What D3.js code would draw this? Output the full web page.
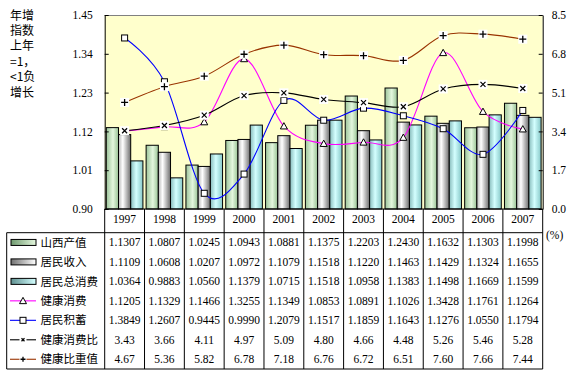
<!DOCTYPE html>
<html><head><meta charset="utf-8">
<script src="https://cdn.jsdelivr.net/npm/d3@7"></script>
<style>body{margin:0;background:#fff}svg{display:block}</style>
</head><body>
<svg id="c" width="577" height="375"></svg>
<script>
const years = ['1997','1998','1999','2000','2001','2002','2003','2004','2005','2006','2007'];
const gdp      = [1.1307,1.0807,1.0245,1.0943,1.0881,1.1375,1.2203,1.2430,1.1632,1.1303,1.1998];
const income   = [1.1109,1.0608,1.0207,1.0972,1.1079,1.1518,1.1220,1.1463,1.1429,1.1324,1.1655];
const consume  = [1.0364,0.9883,1.0560,1.1379,1.0715,1.1518,1.0958,1.1383,1.1498,1.1669,1.1599];
const health   = [1.1205,1.1329,1.1466,1.3255,1.1349,1.0853,1.0891,1.1026,1.3428,1.1761,1.1264];
const savings  = [1.3849,1.2607,0.9445,0.9990,1.2079,1.1517,1.1859,1.1643,1.1276,1.0550,1.1794];
const ratio    = [3.43,3.66,4.11,4.97,5.09,4.80,4.66,4.48,5.26,5.46,5.28];
const share    = [4.67,5.36,5.82,6.78,7.18,6.76,6.72,6.51,7.60,7.66,7.44];
const leftTicks = [0.90,1.01,1.12,1.23,1.34,1.45];
const rightTicks = [0,1.7,3.4,5.1,6.8,8.5];
const yTitle = ['年增','指数','上年','=1，','<1负','增长'];

const svg = d3.select('#c');
const L=104.7, R=542.7, T=15, B=209, tTop=232.7, tBot=369, tLeft=6.7;
const serif = 'Liberation Serif, Times New Roman, serif';
const cjk = 'Noto Sans CJK SC, sans-serif';

const x = d3.scaleBand().domain(years).range([L,R]).padding(0);
const yL = d3.scaleLinear().domain([0.90,1.45]).range([B,T]);
const yR = d3.scaleLinear().domain([0,8.5]).range([B,T]);
const barKeys = ['g','s','c'];
const gap = x.bandwidth()*0.08;
const xi = d3.scaleBand().domain(barKeys).range([gap/2, x.bandwidth()-gap/2]).padding(0);

const defs = svg.append('defs');
function grad(id, stops){
  const g = defs.append('linearGradient').attr('id',id).attr('x1',0).attr('x2',1).attr('y1',0).attr('y2',0);
  stops.forEach(s=>g.append('stop').attr('offset',s[0]).attr('stop-color',s[1]));
}
grad('gG',[[0,'#9cc49a'],[0.55,'#e4f7de'],[1,'#98c294']]);
grad('gS',[[0,'#b8b8b8'],[0.35,'#ffffff'],[1,'#6e6e6e']]);
grad('gC',[[0,'#88bcbc'],[0.45,'#d4ffff'],[1,'#86c8c8']]);
grad('lG',[[0,'#6f9a6f'],[1,'#e4f7de']]);
grad('lS',[[0,'#707070'],[1,'#ffffff']]);
grad('lC',[[0,'#5f9090'],[1,'#d4ffff']]);

// plot background
svg.append('rect').attr('x',L).attr('y',T).attr('width',R-L).attr('height',B-T).attr('fill','#FFFFCC');
svg.append('line').attr('x1',L).attr('x2',R).attr('y1',T+0.5).attr('y2',T+0.5).attr('stroke','#808080');

// bars
const barSeries = [{k:'g',v:gdp,f:'url(#gG)'},{k:'s',v:income,f:'url(#gS)'},{k:'c',v:consume,f:'url(#gC)'}];
barSeries.forEach(s=>{
  svg.append('g').selectAll('rect').data(years).join('rect')
    .attr('x',(d)=>x(d)+xi(s.k)).attr('width',xi.bandwidth())
    .attr('y',(d,i)=>yL(s.v[i])).attr('height',(d,i)=>B-yL(s.v[i]))
    .attr('fill',s.f).attr('stroke','#000').attr('stroke-width',1);
});

// axes
const axL = svg.append('g').attr('transform',`translate(${L},0)`)
  .call(d3.axisLeft(yL).tickValues(leftTicks).tickFormat(d3.format('.2f')).tickSizeInner(-4).tickSizeOuter(0).tickPadding(12));
const axR = svg.append('g').attr('transform',`translate(${R},0)`)
  .call(d3.axisRight(yR).tickValues(rightTicks).tickFormat(d3.format('.1f')).tickSizeInner(-4).tickSizeOuter(0).tickPadding(9));
[axL,axR].forEach(a=>{
  a.selectAll('text').attr('font-family',serif).attr('font-size','11.5px').attr('fill','#000');
  a.selectAll('line,path').attr('stroke','#000');
});

// lines
const cx = d=>x(d)+x.bandwidth()/2;
const curve = d3.curveCatmullRom.alpha(0);
const lineSeries = [
  {v:health, y:yL, c:'#FF00FF', m:'tri'},
  {v:savings, y:yL, c:'#0000FF', m:'sq'},
  {v:ratio, y:yR, c:'#000000', m:'x'},
  {v:share, y:yR, c:'#993300', m:'plus'}
];
lineSeries.forEach(s=>{
  const ln = d3.line().x((d,i)=>cx(years[i])).y(d=>s.y(d)).curve(curve);
  svg.append('path').attr('d',ln(s.v)).attr('fill','none').attr('stroke',s.c).attr('stroke-width',1.1);
});
function marker(g, type, px, py, sz){
  const h=sz/2;
  if(type==='tri'){
    g.append('path').attr('d',`M${px},${py-h}L${px+h},${py+h*0.8}L${px-h},${py+h*0.8}Z`).attr('fill','#fff').attr('stroke','#000').attr('stroke-width',1);
  } else if(type==='sq'){
    g.append('rect').attr('x',px-h).attr('y',py-h).attr('width',sz).attr('height',sz).attr('fill','#fff').attr('stroke','#000').attr('stroke-width',1);
  } else if(type==='x'){
    g.append('rect').attr('x',px-h-1).attr('y',py-h-1).attr('width',sz+2).attr('height',sz+2).attr('fill','#fff');
    g.append('path').attr('d',`M${px-h+1},${py-h+1}L${px+h-1},${py+h-1}M${px+h-1},${py-h+1}L${px-h+1},${py+h-1}`).attr('stroke','#000').attr('stroke-width',1.2);
  } else {
    g.append('rect').attr('x',px-h-1).attr('y',py-h-1).attr('width',sz+2).attr('height',sz+2).attr('fill','#fff');
    g.append('path').attr('d',`M${px-h},${py}L${px+h},${py}M${px},${py-h}L${px},${py+h}`).attr('stroke','#000').attr('stroke-width',1.3);
  }
}
lineSeries.forEach(s=>{
  const g = svg.append('g');
  s.v.forEach((d,i)=>marker(g, s.m, cx(years[i]), s.y(d), s.m==='sq'?6:7));
});

// x axis line and table grid
const grid = svg.append('g').attr('stroke','#000').attr('stroke-width',1);
grid.append('line').attr('x1',L).attr('x2',R).attr('y1',B).attr('y2',B);
grid.append('line').attr('x1',tLeft).attr('x2',R).attr('y1',tTop).attr('y2',tTop);
grid.append('line').attr('x1',tLeft).attr('x2',R).attr('y1',tBot).attr('y2',tBot);
grid.append('line').attr('x1',tLeft).attr('x2',tLeft).attr('y1',tTop).attr('y2',tBot);
years.forEach(yv=>{
  grid.append('line').attr('x1',x(yv)).attr('x2',x(yv)).attr('y1',B).attr('y2',tBot);
});
grid.append('line').attr('x1',R).attr('x2',R).attr('y1',B).attr('y2',tBot);

// year labels
svg.append('g').selectAll('text').data(years).join('text')
  .attr('x',d=>cx(d)).attr('y',219).attr('dy','0.35em').attr('text-anchor','middle')
  .attr('font-family',serif).attr('font-size','11.5px').text(d=>d);

// table rows
const rows = [
  {name:'山西产值', v:gdp, fmt:'.4f', sym:'bar', f:'url(#lG)'},
  {name:'居民收入', v:income, fmt:'.4f', sym:'bar', f:'url(#lS)'},
  {name:'居民总消费', v:consume, fmt:'.4f', sym:'bar', f:'url(#lC)'},
  {name:'健康消费', v:health, fmt:'.4f', sym:'tri', c:'#FF00FF'},
  {name:'居民积蓄', v:savings, fmt:'.4f', sym:'sq', c:'#0000FF'},
  {name:'健康消费比', v:ratio, fmt:'.2f', sym:'x', c:'#000000'},
  {name:'健康比重值', v:share, fmt:'.2f', sym:'plus', c:'#993300'}
];
const rh = (tBot-tTop)/rows.length;
rows.forEach((r,ri)=>{
  const yc = tTop + rh*(ri+0.5);
  const g = svg.append('g');
  if(r.sym==='bar'){
    g.append('rect').attr('x',11).attr('y',yc-3).attr('width',25).attr('height',6).attr('fill',r.f).attr('stroke','#000').attr('stroke-width',1);
  } else {
    g.append('line').attr('x1',10).attr('x2',36).attr('y1',yc).attr('y2',yc).attr('stroke',r.c).attr('stroke-width',1.1);
    marker(g, r.sym, 23, yc, r.sym==='sq'?6:(r.sym==='tri'?7:5));
  }
  g.append('text').attr('x',40.5).attr('y',yc).attr('dy','0.36em')
    .attr('font-family',cjk).attr('font-size','11.5px').text(r.name);
  g.selectAll('text.v').data(years).join('text').attr('class','v')
    .attr('x',d=>cx(d)).attr('y',yc).attr('dy','0.35em').attr('text-anchor','middle')
    .attr('font-family',serif).attr('font-size','11.5px')
    .text((d,i)=>d3.format(r.fmt)(r.v[i]));
});

// (%)
svg.append('text').attr('x',546).attr('y',235).attr('dy','0.35em')
  .attr('font-family',serif).attr('font-size','11.5px').text('(%)');

// y title
svg.append('g').selectAll('text').data(yTitle).join('text')
  .attr('x',10).attr('y',(d,i)=>15+i*15.4).attr('dy','0.38em')
  .attr('font-family',cjk).attr('font-size','12px').text(d=>d);
</script>
</body></html>
